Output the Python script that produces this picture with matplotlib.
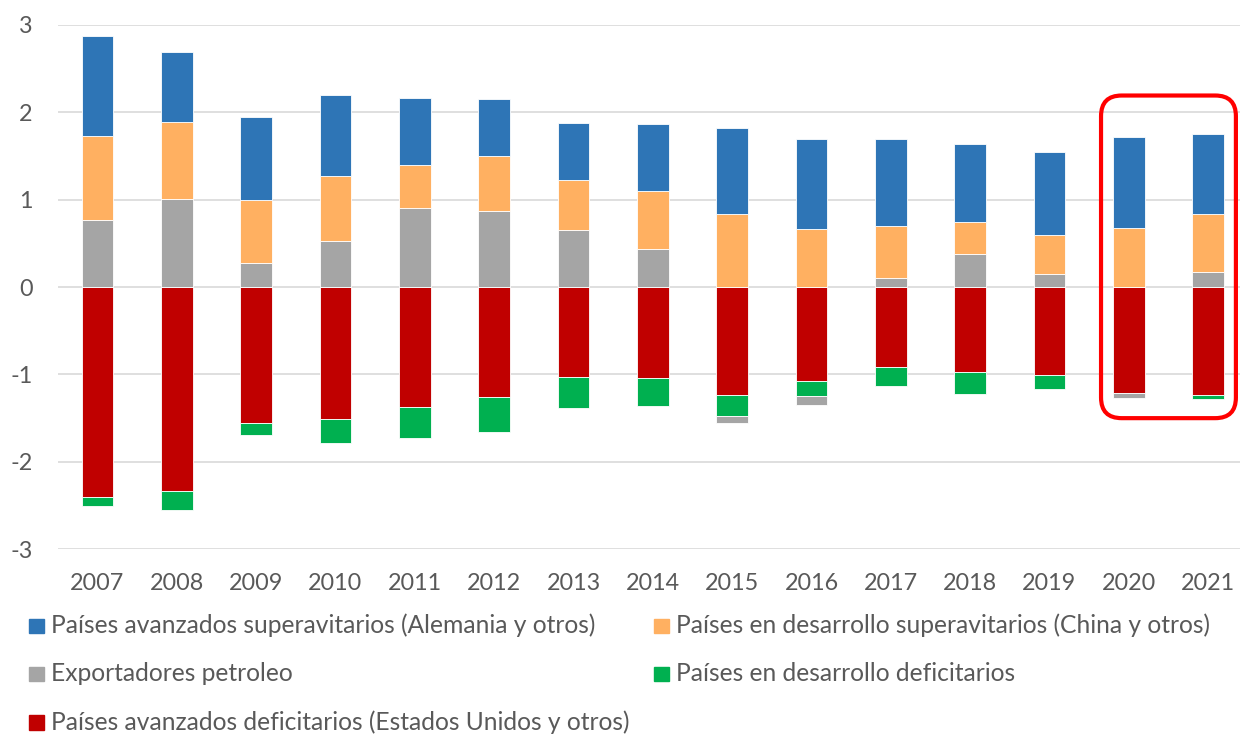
import matplotlib
matplotlib.use("Agg")
import matplotlib.pyplot as plt
from matplotlib.patches import FancyBboxPatch, Rectangle
import numpy as np

# colours (Excel office palette)
BLUE, ORANGE, GRAY, GREEN, RED = "#2E75B6", "#FFB061", "#A5A5A5", "#00B050", "#C00000"
TEXT, GRID = "#595959", "#D9D9D9"

years = ["2007", "2008", "2009", "2010", "2011", "2012", "2013", "2014",
         "2015", "2016", "2017", "2018", "2019", "2020", "2021"]

av_sup = [1.15, 0.80, 0.95, 0.93, 0.76, 0.65, 0.65, 0.76, 0.98, 1.03, 0.99, 0.89, 0.95, 1.035, 0.91]
dev_sup = [0.955, 0.88, 0.72, 0.74, 0.50, 0.63, 0.57, 0.66, 0.84, 0.66, 0.60, 0.36, 0.44, 0.68, 0.67]
petro = [0.77, 1.01, 0.27, 0.53, 0.90, 0.87, 0.65, 0.44, -0.09, -0.095, 0.10, 0.38, 0.15, -0.06, 0.17]
dev_def = [-0.11, -0.22, -0.13, -0.27, -0.35, -0.40, -0.35, -0.32, -0.23, -0.17, -0.21, -0.25, -0.16, 0.0, -0.04]
av_def = [-2.40, -2.335, -1.56, -1.51, -1.375, -1.26, -1.03, -1.04, -1.24, -1.08, -0.92, -0.97, -1.005, -1.215, -1.24]

labels = {
    "av_sup": "Países avanzados superavitarios (Alemania y otros)",
    "dev_sup": "Países en desarrollo superavitarios (China y otros)",
    "petro": "Exportadores petroleo",
    "dev_def": "Países en desarrollo deficitarios",
    "av_def": "Países avanzados deficitarios (Estados Unidos y otros)",
}
highlight = ["2020", "2021"]

# Excel stacking order: first series sits next to zero
series = [("av_def", av_def, RED), ("dev_def", dev_def, GREEN), ("petro", petro, GRAY),
          ("dev_sup", dev_sup, ORANGE), ("av_sup", av_sup, BLUE)]

plt.rcParams["font.family"] = ["Lato", "DejaVu Sans"]
plt.rcParams["axes.unicode_minus"] = False
fig = plt.figure(figsize=(12.4, 7.34), dpi=100)
ax = fig.add_axes([57.8 / 1240, 184.7 / 734, 1190 / 1240, 524.6 / 734])

x = np.arange(len(years))
pos = np.zeros(len(years))
neg = np.zeros(len(years))
for key, vals, col in series:
    v = np.array(vals)
    bottom = np.where(v >= 0, pos, neg)
    ax.bar(x, v, width=0.4, bottom=bottom, color=col, edgecolor="white", linewidth=0.6, zorder=2)
    pos += np.where(v > 0, v, 0)
    neg += np.where(v < 0, v, 0)

ax.set_xlim(-0.5, len(years) - 0.5)
ax.set_ylim(-3, 3)
ax.set_yticks([-3, -2, -1, 0, 1, 2, 3])
ax.set_xticks(x)
ax.set_xticklabels(years)
ax.yaxis.grid(True, color=GRID, lw=1.2)
ax.set_axisbelow(True)
for s in ax.spines.values():
    s.set_visible(False)
ax.tick_params(axis="y", length=0, pad=18, labelsize=16.8, labelcolor=TEXT)
ax.tick_params(axis="x", length=0, pad=17, labelsize=16.8, labelcolor=TEXT)

# rounded red box around the last two years
i0, i1 = years.index(highlight[0]), years.index(highlight[-1])
box = FancyBboxPatch((i0 - 0.35, -1.50), (i1 - i0) + 0.70, 3.69,
                     boxstyle="round,pad=0,rounding_size=0.26", mutation_aspect=0.908,
                     fill=False, edgecolor="#FF0000", lw=3, clip_on=False, zorder=5)
ax.add_patch(box)

# legend, row-major like Excel
legend_items = [("av_sup", BLUE), ("dev_sup", ORANGE), ("petro", GRAY), ("dev_def", GREEN), ("av_def", RED)]
col_x = [29.3, 654.3]
row_base = [633.0, 681.0, 729.5]
for k, (key, col) in enumerate(legend_items):
    cx, ry = col_x[k % 2], row_base[k // 2]
    fig.patches.append(Rectangle((cx / 1240, (734 - ry) / 734), 14.5 / 1240, 14.5 / 734,
                                 transform=fig.transFigure, color=col))
    fig.text((cx + 21.4) / 1240, (734 - ry) / 734, labels[key], fontsize=17.7,
             color=TEXT, va="baseline", ha="left")

fig.savefig("out.png", dpi=100)
